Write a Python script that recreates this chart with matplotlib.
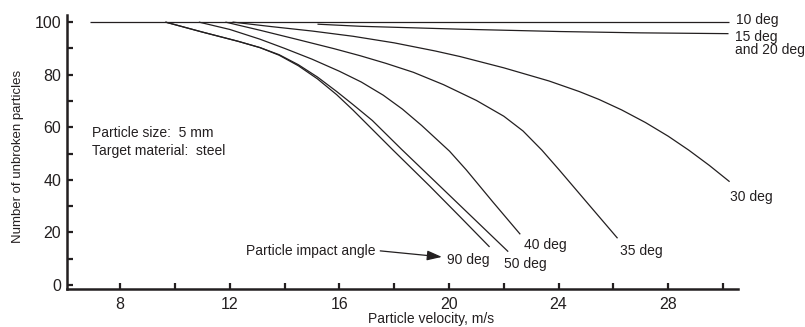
import matplotlib
matplotlib.use("Agg")
import matplotlib.pyplot as plt
from matplotlib.ticker import FixedLocator

plt.rcParams['font.family'] = ['Liberation Sans', 'DejaVu Sans']

# Particle velocity (m/s) vs. number of unbroken particles, by impact angle
v_10 = [6.9, 30.2]
n_10 = [100, 100]

v_15 = [15.2, 16.76, 20.4, 24.06, 27.0, 30.2]
n_15 = [99.2, 98.4, 97.3, 96.4, 95.9, 95.6]

v_30 = [12.1, 13.5, 15.0, 16.5, 18.0, 19.5, 20.4, 22.0, 23.65, 24.75, 25.47,
        26.3, 27.17, 28.0, 28.75, 29.5, 30.24]
n_30 = [100, 98.3, 96.6, 94.6, 92.1, 89.0, 86.9, 82.6, 77.6, 73.6, 70.6,
        66.6, 61.8, 56.6, 51.3, 45.5, 39.3]

v_35 = [11.84, 13.1, 14.5, 15.8, 16.76, 17.7, 18.7, 19.8, 21.0, 22.0, 22.7,
        23.39, 24.02, 25.1, 26.15]
n_35 = [100, 96.9, 93.3, 89.9, 87.2, 84.3, 80.9, 76.2, 70.2, 64.2, 58.6,
        51.3, 43.8, 30.6, 17.8]

v_40 = [10.87, 12.0, 13.1, 14.0, 15.0, 16.0, 16.8, 17.6, 18.3, 19.0, 20.02,
        20.63, 21.6, 22.6]
n_40 = [100, 97.2, 93.5, 90.0, 85.9, 81.3, 77.2, 72.2, 66.9, 60.7, 50.9,
        43.8, 31.6, 19.3]

v_50 = [9.65, 11.0, 12.3, 13.1, 13.8, 14.5, 15.2, 15.9, 16.5, 17.2, 18.26,
        19.65, 21.0, 22.16]
n_50 = [100, 96.2, 92.7, 90.3, 87.6, 83.8, 79.1, 73.6, 68.6, 62.6, 51.7,
        37.8, 24.3, 12.7]

v_90 = [9.65, 11.0, 12.3, 13.1, 13.8, 14.5, 15.2, 15.9, 16.5, 17.95, 19.3,
        20.4, 21.48]
n_90 = [100, 96.2, 92.7, 90.3, 87.4, 83.4, 78.4, 72.4, 66.5, 51.4, 37.6,
        26.0, 14.5]

x_ticks = [8, 10, 12, 14, 16, 18, 20, 22, 24, 26, 28, 30]
x_labels = ['8', '', '12', '', '16', '', '20', '', '24', '', '28', '']
y_ticks = [0, 10, 20, 30, 40, 50, 60, 70, 80, 90, 100]
y_labels = ['0', '', '20', '', '40', '', '60', '', '80', '', '100']

ink = '#231f20'

fig = plt.figure(figsize=(8.05, 3.27), dpi=100)
ax = fig.add_axes([0.0829, 0.1162, 0.834, 0.838])

for v, n in [(v_10, n_10), (v_15, n_15), (v_30, n_30), (v_35, n_35),
             (v_40, n_40), (v_50, n_50), (v_90, n_90)]:
    ax.plot(v, n, color=ink, lw=0.9, solid_capstyle='butt',
            solid_joinstyle='round')

ax.set_xlim(6.05, 30.55)
ax.set_ylim(-1.5, 102.7)

for s in ['top', 'right']:
    ax.spines[s].set_visible(False)
for s in ['left', 'bottom']:
    ax.spines[s].set_linewidth(1.8)
    ax.spines[s].set_color(ink)

ax.xaxis.set_major_locator(FixedLocator(x_ticks))
ax.set_xticklabels(x_labels)
ax.yaxis.set_major_locator(FixedLocator(y_ticks))
ax.set_yticklabels(y_labels)
ax.tick_params(direction='in', length=4.5, width=1.6, color=ink,
               labelsize=11.5, labelcolor=ink)
ax.tick_params(axis='x', pad=6)
ax.tick_params(axis='y', pad=4)

ax.set_xlabel('Particle velocity, m/s', fontsize=10, color=ink)
ax.xaxis.set_label_coords(0.543, -0.085)
ax.set_ylabel('Number of unbroken particles', fontsize=9.5, color=ink)
ax.yaxis.set_label_coords(-0.063, 0.485)

fs = 10
ax.text(30.48, 100.9, '10 deg', fontsize=fs, color=ink, va='center', ha='left')
ax.text(30.45, 97.0, '15 deg\nand 20 deg', fontsize=fs, color=ink, va='top',
        ha='left', linespacing=0.95)
ax.text(30.24, 33.6, '30 deg', fontsize=fs, color=ink, va='center', ha='left')
ax.text(26.23, 13.0, '35 deg', fontsize=fs, color=ink, va='center', ha='left')
ax.text(22.72, 15.2, '40 deg', fontsize=fs, color=ink, va='center', ha='left')
ax.text(21.99, 7.9, '50 deg', fontsize=fs, color=ink, va='center', ha='left')
ax.text(19.92, 9.5, '90 deg', fontsize=fs, color=ink, va='center', ha='left')

ax.annotate('', xy=(19.74, 10.7), xytext=(17.49, 13.0),
            arrowprops=dict(arrowstyle='-|>,head_length=0.9,head_width=0.3',
                            color=ink, lw=0.9, shrinkA=0, shrinkB=0))
ax.text(17.3, 13.0, 'Particle impact angle', fontsize=fs, color=ink,
        va='center', ha='right')

ax.text(6.97, 57.7, 'Particle size:  5 mm', fontsize=fs, color=ink, va='center', ha='left')
ax.text(6.97, 51.1, 'Target material:  steel', fontsize=fs, color=ink, va='center', ha='left')

fig.savefig('out.png', dpi=100)
